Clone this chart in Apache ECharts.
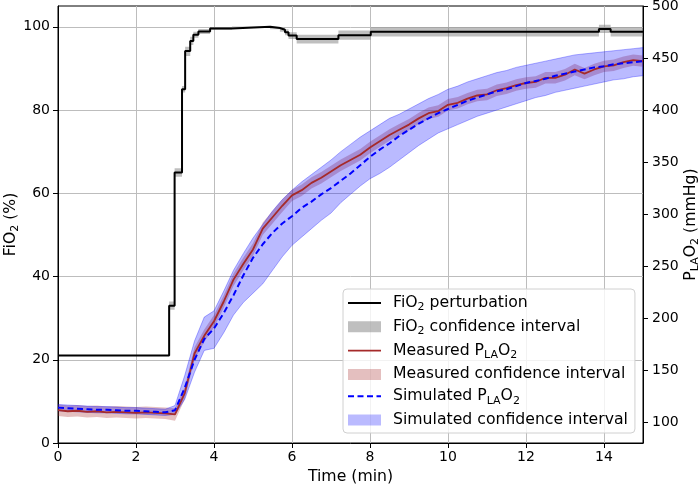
<!DOCTYPE html>
<html>
<head>
<meta charset="utf-8">
<script src="https://cdn.jsdelivr.net/npm/echarts@6/dist/echarts.min.js"></script>
<style>
  html, body { margin: 0; padding: 0; background: #fff; }
  #chart { width: 700px; height: 486px; }
</style>
</head>
<body>
<div id="chart"></div>
<script>
// FiO2 step profile (left axis, %)
const fio2Time = [0, 2.85, 2.99, 3.18, 3.26, 3.39, 3.47, 3.6, 3.9, 4.46, 5.44, 5.69, 5.82, 5.91, 6.12, 7.19, 8.02, 13.87, 14.17, 15];
const fio2Value = [21, 33, 65, 85, 94.2, 96.6, 98.1, 98.9, 99.6, 100, 99.7, 99.3, 98.7, 97.9, 97.1, 98.0, 98.8, 99.5, 98.8, 98.8];
const fio2Low = [20.9, 32, 64, 84.2, 93.0, 95.6, 97.4, 98.3, 99.3, 99.9, 99.4, 98.8, 98.0, 97.1, 96.0, 96.9, 97.7, 98.5, 97.7, 97.7];
const fio2High = [21.1, 34, 66, 85.8, 95.2, 97.6, 98.8, 99.5, 99.9, 100.1, 100, 99.8, 99.4, 98.7, 98.1, 99.1, 99.9, 100.5, 99.9, 99.9];

// left atrial PO2 (right axis, mmHg)
const plaTime = [0, 0.25, 0.5, 0.75, 1, 1.25, 1.5, 1.75, 2, 2.25, 2.5, 2.75, 3, 3.25, 3.5, 3.75, 4, 4.25, 4.5, 4.75,
  5, 5.25, 5.5, 5.75, 6, 6.25, 6.5, 6.75, 7, 7.25, 7.5, 7.75, 8, 8.25, 8.5, 8.75, 9, 9.25, 9.5, 9.75,
  10, 10.25, 10.5, 10.75, 11, 11.25, 11.5, 11.75, 12, 12.25, 12.5, 12.75, 13, 13.25, 13.5, 13.75, 14, 14.25, 14.5, 14.75, 15];
const measuredPla = [111.5, 110.5, 111, 110, 110.5, 109.5, 110, 109.5, 109, 109.5, 109, 108.5, 107.5, 128, 166, 183, 197, 216, 237, 252,
  266, 286, 297, 308, 318, 323, 330, 335, 341, 347, 352, 357, 364, 370, 376, 381, 386, 392, 397, 399,
  405, 407, 411, 414, 415, 419, 421, 424, 426, 427, 431, 431, 434, 439, 435, 439, 442, 443, 446, 448, 447];
const measuredCiHalf = [5.5, 5.5, 5.5, 5.5, 5.5, 5.5, 5.5, 5.5, 5.5, 5.5, 5.5, 5.5, 6, 6, 6, 6, 6, 6, 6, 6,
  6, 6, 6, 6, 5.5, 5.5, 5.5, 5.5, 5.5, 5.5, 5.5, 5.5, 5.5, 5.5, 5.5, 5.5, 5.5, 5.5, 5.5, 5.5,
  5.5, 5.5, 5.5, 5.5, 5.5, 5.5, 5.5, 5.5, 5.5, 5.5, 5.5, 5.5, 5.5, 5.5, 5.5, 5.5, 5.5, 5.5, 5.5, 5.5, 5.5];
const simulatedPla = [114, 113.5, 113, 112.5, 112, 112, 111.5, 111, 111, 110.5, 110, 109.5, 111.5, 133, 160, 180, 190, 205, 222, 241,
  258, 271, 282, 291, 298, 306, 312, 319, 325, 332, 339, 347, 355, 362, 368, 375, 381, 387, 392, 397,
  401, 405, 409, 412, 415, 418, 420, 423, 426, 428, 430, 433, 435, 437, 439, 441, 442, 444, 445, 446, 447];
const simulatedLow = [111, 110.5, 110, 109.5, 109, 109, 108.5, 108, 108, 107.5, 107, 106.5, 107.5, 122, 148, 169, 171, 186, 203, 215,
  224, 233, 246, 259, 270, 278, 286, 294, 301, 311, 319, 327, 334, 339, 345, 352, 359, 366, 372, 378,
  382, 386, 390, 394, 397, 400, 403, 406, 409, 412, 414, 417, 419, 421, 423, 425, 427, 429, 430, 432, 433];
const simulatedHigh = [117, 116.5, 116, 115.5, 115, 115, 114.5, 114, 114, 113.5, 113, 112.5, 116, 145, 178, 201, 207, 226, 246, 262,
  277, 290, 303, 314, 323, 331, 338, 345, 352, 360, 367, 374, 380, 386, 392, 396, 401, 406, 411, 415,
  420, 423, 427, 430, 433, 436, 438, 441, 443, 445, 447, 449, 451, 453, 454, 455, 456, 457, 458, 459, 460];

const timeTicks = [0, 2, 4, 6, 8, 10, 12, 14];
const fio2Ticks = [0, 20, 40, 60, 80, 100];
const plaTicks = [100, 150, 200, 250, 300, 350, 400, 450, 500];

const legendLabels = {
  fio2: '{n|FiO}{s|2}{n| perturbation}',
  fio2ci: '{n|FiO}{s|2}{n| confidence interval}',
  meas: '{n|Measured P}{s|LA}{n|O}{s|2}',
  measci: '{n|Measured confidence interval}',
  sim: '{n|Simulated P}{s|LA}{n|O}{s|2}',
  simci: '{n|Simulated confidence interval}'
};

const FONT = 'DejaVu Sans';
const rich = {
  n: { fontFamily: FONT, fontSize: 15.7, lineHeight: 20, color: '#000' },
  s: { fontFamily: FONT, fontSize: 11, lineHeight: 12, color: '#000', verticalAlign: 'bottom' }
};

const pairs = (xs, ys) => xs.map((x, i) => [x, ys[i]]);

// confidence band drawn as one polygon, points placed with api.coord
function band(id, xs, lo, hi, axis, fill, edge, step) {
  return {
    name: id, type: 'custom', yAxisIndex: axis, silent: true, clip: true,
    itemStyle: { color: fill },
    encode: { x: 0, y: 1 },
    data: [[xs[0], lo[0]]],
    renderItem: (params, api) => {
      const top = [], bottom = [];
      for (let i = 0; i < xs.length; i++) {
        top.push(api.coord([xs[i], hi[i]]));
        bottom.push(api.coord([xs[i], lo[i]]));
        if (step && i < xs.length - 1) {
          top.push(api.coord([xs[i + 1], hi[i]]));
          bottom.push(api.coord([xs[i + 1], lo[i]]));
        }
      }
      return {
        type: 'polygon',
        shape: { points: top.concat(bottom.reverse()) },
        style: { fill: fill, stroke: edge || null, lineWidth: edge ? 1 : 0 }
      };
    }
  };
}

const measLow = measuredPla.map((v, i) => v - measuredCiHalf[i]);
const measHigh = measuredPla.map((v, i) => v + measuredCiHalf[i]);

const solidIcon = 'path://M0,0H33V2H0Z';
const thinIcon = 'path://M0,0H33V1.8H0Z';
const dashIcon = 'path://M0,0H6V2H0Z M9.5,0H15.5V2H9.5Z M19,0H25V2H19Z M28.5,0H33V2H28.5Z';

const chart = echarts.init(document.getElementById('chart'), null, { renderer: 'canvas' });

const axisText = { fontFamily: FONT, fontSize: 14, color: '#000' };

chart.setOption({
  animation: false,
  backgroundColor: '#fff',
  grid: {
    left: 58, right: 57, top: 6, bottom: 43,
    containLabel: false, outerBoundsMode: 'none',
    show: true, borderColor: '#000', borderWidth: 1, backgroundColor: 'transparent'
  },
  legend: {
    orient: 'vertical',
    left: 343, top: 289,
    itemWidth: 33, itemHeight: 11, itemGap: 5.8,
    symbolKeepAspect: true,
    padding: [6, 7, 5, 5],
    backgroundColor: 'rgba(255,255,255,0.8)',
    borderColor: '#d0d0d0', borderWidth: 1, borderRadius: 4,
    selectedMode: false,
    data: [
      { name: 'fio2', icon: solidIcon },
      { name: 'fio2ci', icon: 'rect' },
      { name: 'meas', icon: thinIcon },
      { name: 'measci', icon: 'rect' },
      { name: 'sim', icon: dashIcon },
      { name: 'simci', icon: 'rect' }
    ],
    formatter: (name) => legendLabels[name],
    textStyle: { fontFamily: FONT, fontSize: 15.7, color: '#000', padding: [0, 0, 0, 7], rich: rich }
  },
  xAxis: {
    type: 'value', min: 0, max: 15, interval: 2,
    name: 'Time (min)', nameLocation: 'middle', nameGap: 26, nameMoveOverlap: false,
    nameTextStyle: { fontFamily: FONT, fontSize: 15.7, color: '#000' },
    axisLine: { show: true, lineStyle: { color: '#000', width: 1 } },
    axisTick: { show: true, length: 5, customValues: timeTicks, lineStyle: { color: '#000' } },
    axisLabel: Object.assign({ margin: 7, customValues: timeTicks }, axisText),
    splitLine: { show: true, lineStyle: { color: '#bdbdbd', width: 1 } }
  },
  yAxis: [
    {
      type: 'value', position: 'left', min: 0, max: 105, interval: 20,
      name: '{n|FiO}{s|2}{n| (%)}', nameLocation: 'middle', nameGap: 37, nameRotate: 90, nameMoveOverlap: false,
      nameTextStyle: { rich: rich },
      axisLine: { show: true, lineStyle: { color: '#000', width: 1 } },
      axisTick: { show: true, length: 5, customValues: fio2Ticks, lineStyle: { color: '#000' } },
      axisLabel: Object.assign({ margin: 8, customValues: fio2Ticks }, axisText),
      splitLine: { show: true, lineStyle: { color: '#bdbdbd', width: 1 } }
    },
    {
      type: 'value', position: 'right', min: 80, max: 500,
      name: '{n|P}{s|LA}{n|O}{s|2}{n| (mmHg)}', nameLocation: 'middle', nameGap: 38, nameRotate: 90, nameMoveOverlap: false,
      nameTextStyle: { rich: rich },
      axisLine: { show: true, lineStyle: { color: '#000', width: 1 } },
      axisTick: { show: true, length: 5, customValues: plaTicks, lineStyle: { color: '#000' } },
      axisLabel: Object.assign({ margin: 9, customValues: plaTicks }, axisText),
      splitLine: { show: false }
    }
  ],
  series: [
    {
      name: 'fio2', type: 'line', yAxisIndex: 0, step: 'end', symbol: 'none', silent: true,
      lineStyle: { color: '#000', width: 2 }, itemStyle: { color: '#000' },
      data: pairs(fio2Time, fio2Value)
    },
    band('fio2ci', fio2Time, fio2Low, fio2High, 0, 'rgba(128,128,128,0.5)', null, true),
    {
      name: 'meas', type: 'line', yAxisIndex: 1, symbol: 'none', silent: true,
      lineStyle: { color: '#a52a2a', width: 1.8 }, itemStyle: { color: '#a52a2a' },
      data: pairs(plaTime, measuredPla)
    },
    band('measci', plaTime, measLow, measHigh, 1, 'rgba(165,42,42,0.3)', null, false),
    {
      name: 'sim', type: 'line', yAxisIndex: 1, symbol: 'none', silent: true,
      lineStyle: { color: '#0000ff', width: 2, type: [6, 3.5] }, itemStyle: { color: '#0000ff' },
      data: pairs(plaTime, simulatedPla)
    },
    band('simci', plaTime, simulatedLow, simulatedHigh, 1, 'rgba(0,0,255,0.27)', 'rgba(0,0,255,0.3)', false)
  ]
});
</script>
</body>
</html>
